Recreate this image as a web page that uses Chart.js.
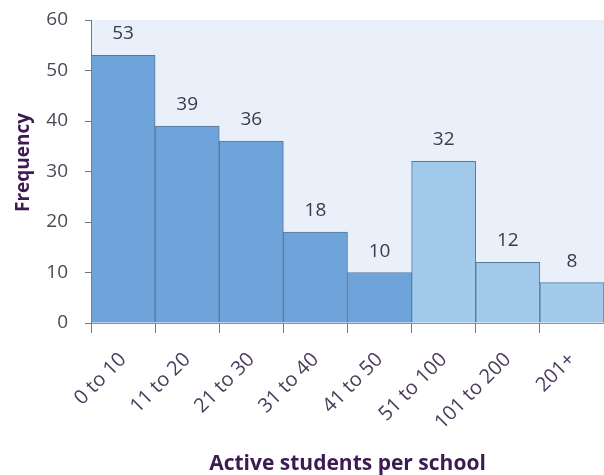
<!DOCTYPE html>
<html>
<head>
<meta charset="utf-8">
<script src="https://cdn.jsdelivr.net/npm/chart.js@4.4.0/dist/chart.umd.min.js"></script>
<style>
  html, body { margin: 0; padding: 0; background: #fff; }
  #wrap { width: 604px; height: 475px; }
</style>
</head>
<body>
<div id="wrap"><canvas id="histChart" width="604" height="475"></canvas></div>
<script>
const bands = ['0 to 10', '11 to 20', '21 to 30', '31 to 40', '41 to 50', '51 to 100', '101 to 200', '201+'];
const counts = [53, 39, 36, 18, 10, 32, 12, 8];
// first five bands are the narrow ranges, the rest are wider
const barColors = ['#6ea4da', '#6ea4da', '#6ea4da', '#6ea4da', '#6ea4da', '#a0c9ea', '#a0c9ea', '#a0c9ea'];
const yTitle = 'Frequency';
const xTitle = 'Active students per school';

const plotBackground = {
    id: 'plotBackground',
    beforeDraw(chart) {
        const { ctx, chartArea } = chart;
        ctx.save();
        ctx.fillStyle = '#e9f0fa';
        ctx.fillRect(chartArea.left, chartArea.top, chartArea.right - chartArea.left, chartArea.bottom - chartArea.top);
        ctx.restore();
    }
};

const valueLabels = {
    id: 'valueLabels',
    afterDatasetsDraw(chart) {
        const { ctx } = chart;
        const meta = chart.getDatasetMeta(0);
        ctx.save();
        ctx.font = '19px "Open Sans"';
        ctx.fillStyle = '#3a3a48';
        ctx.textAlign = 'center';
        ctx.textBaseline = 'alphabetic';
        meta.data.forEach((bar, i) => {
            ctx.fillText(counts[i], bar.x, bar.y - 16);
        });
        ctx.restore();
    }
};

// vertical axis title, sitting a little above the middle of the axis
const sideTitle = {
    id: 'sideTitle',
    afterDraw(chart) {
        const { ctx, chartArea } = chart;
        ctx.save();
        ctx.translate(24, (chartArea.top + chartArea.bottom) / 2 - 9);
        ctx.rotate(-Math.PI / 2);
        ctx.font = 'bold 19px "Open Sans"';
        ctx.fillStyle = '#3d1a52';
        ctx.textAlign = 'center';
        ctx.textBaseline = 'middle';
        ctx.fillText(yTitle, 0, 0);
        ctx.restore();
    }
};

const data = {
    labels: bands,
    datasets: [{
        label: yTitle,
        data: counts,
        backgroundColor: barColors,
        borderColor: '#58789a',
        borderWidth: 1,
        barPercentage: 1,
        categoryPercentage: 1
    }]
};

const config = {
    type: 'bar',
    data: data,
    options: {
        responsive: false,
        animation: false,
        layout: { padding: { top: 20, right: 0, left: 0, bottom: 0 } },
        plugins: {
            legend: { display: false },
            tooltip: { enabled: false }
        },
        scales: {
            x: {
                afterFit(scale) { scale.height = 152; },
                grid: { drawOnChartArea: false, offset: true, tickLength: 10, color: '#6a7a8a' },
                border: { color: '#8a929a' },
                ticks: {
                    minRotation: 45,
                    maxRotation: 45,
                    padding: 15,
                    color: '#4a3d5c',
                    font: { family: 'Open Sans', size: 20 }
                },
                title: {
                    display: true,
                    text: xTitle,
                    color: '#3d1a52',
                    font: { family: 'Open Sans', size: 21, weight: 'bold', lineHeight: 1 },
                    padding: { top: 0, bottom: 0 }
                }
            },
            y: {
                min: 0,
                max: 60,
                afterFit(scale) {
                    scale.width = 91;
                    scale.paddingTop = 0;
                    scale.paddingBottom = 0;
                },
                ticks: {
                    stepSize: 10,
                    color: '#4a4a55',
                    padding: 17,
                    font: { family: 'Open Sans', size: 19 }
                },
                grid: { drawOnChartArea: false, tickLength: 6, color: '#6a7a8a' },
                border: { color: '#6a7a8a' }
            }
        }
    },
    plugins: [plotBackground, valueLabels, sideTitle]
};

const myChart = new Chart(document.getElementById('histChart'), config);
</script>
</body>
</html>
